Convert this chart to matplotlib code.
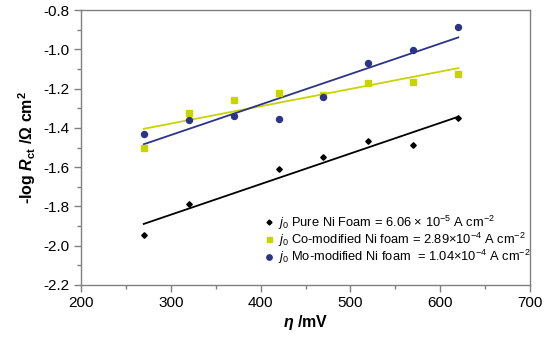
import numpy as np
import matplotlib
matplotlib.use('Agg')
import matplotlib.pyplot as plt
from matplotlib.ticker import MultipleLocator

plt.rcParams['font.family'] = ['Liberation Sans', 'DejaVu Sans']
plt.rcParams['mathtext.fontset'] = 'custom'
plt.rcParams['mathtext.rm'] = 'Liberation Sans'
plt.rcParams['mathtext.it'] = 'Liberation Sans:italic'
plt.rcParams['mathtext.bf'] = 'Liberation Sans:bold'
plt.rcParams['mathtext.bfit'] = 'Liberation Sans:italic:bold'

# overpotential (mV)
eta = [270, 320, 370, 420, 470, 520, 570, 620]
eta_pure = [270, 320, 420, 470, 520, 570, 620]
# -log Rct
pure = [-1.947, -1.788, -1.61, -1.55, -1.465, -1.486, -1.35]
co_mod = [-1.504, -1.326, -1.258, -1.22, -1.23, -1.173, -1.165, -1.124]
mo_mod = [-1.433, -1.36, -1.34, -1.353, -1.243, -1.07, -1.005, -0.885]

labels = [r'$j_0$ Pure Ni Foam = 6.06 × 10$^{-5}$ A cm$^{-2}$',
          r'$j_0$ Co-modified Ni foam = 2.89×10$^{-4}$ A cm$^{-2}$',
          r'$j_0$ Mo-modified Ni foam  = 1.04×10$^{-4}$ A cm$^{-2}$']

c_black = 'black'
c_yel = '#c8d400'
c_navy = '#2b3486'

fig = plt.figure(figsize=(5.5, 3.38), dpi=100)
ax = fig.add_axes([0.147, 0.157, 0.817, 0.813])

series = [(eta_pure, pure, c_black, 'D', 2.8),
          (eta, co_mod, c_yel, 's', 4.0),
          (eta, mo_mod, c_navy, 'o', 4.3)]
handles = []
for x, y, c, m, ms in series:
    x = np.array(x)
    k, b = np.polyfit(x, y, 1)
    ax.plot(x[[0, -1]], k * x[[0, -1]] + b, color=c, lw=1.3, zorder=2)
    h, = ax.plot(x, y, ls='none', marker=m, ms=ms, color=c, mec=c, zorder=3)
    handles.append(h)

ax.set_xlim(200, 700)
ax.set_ylim(-2.2, -0.8)
ax.xaxis.set_major_locator(MultipleLocator(100))
ax.xaxis.set_minor_locator(MultipleLocator(50))
ax.yaxis.set_major_locator(MultipleLocator(0.2))
ax.yaxis.set_minor_locator(MultipleLocator(0.1))
ax.yaxis.set_major_formatter(matplotlib.ticker.FuncFormatter(lambda v, p: '%.1f' % v))

for s in ax.spines.values():
    s.set_color('#808080')
    s.set_linewidth(1.0)
ax.tick_params(which='major', direction='out', length=5, width=1, color='#808080',
               labelsize=11, pad=3)
ax.tick_params(which='minor', direction='out', length=3, width=1, color='#808080')

ax.set_xlabel(r'$\mathbfit{\eta}$ /mV', fontsize=11.5, fontweight='bold', labelpad=2)
ax.set_ylabel(r'-log $\mathbfit{R}_{\mathbf{ct}}$ /Ω cm$^{\mathbf{2}}$', fontsize=11.5,
              fontweight='bold', labelpad=4)

ax.legend(handles, labels, loc='lower left', bbox_to_anchor=(0.392, 0.045),
          frameon=False, fontsize=9.3, handlelength=0.8, handletextpad=0.35,
          labelspacing=-0.08, borderpad=0, markerscale=0.9)

fig.savefig('out.png', dpi=100)
